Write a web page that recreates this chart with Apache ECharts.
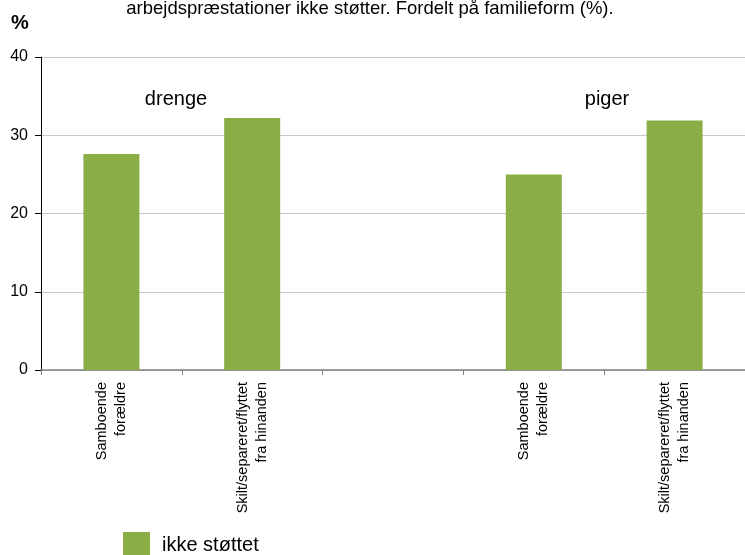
<!DOCTYPE html>
<html>
<head>
<meta charset="utf-8">
<script src="https://cdn.jsdelivr.net/npm/echarts@6/dist/echarts.min.js"></script>
<style>html,body{margin:0;padding:0;background:#fff}#c{width:745px;height:555px}</style>
</head>
<body>
<div id="c"></div>
<script>
var categories = ['Samboende\nforældre', 'Skilt/separeret/flyttet\nfra hinanden', '', 'Samboende\nforældre', 'Skilt/separeret/flyttet\nfra hinanden'];
var values = [27.6, 32.2, null, 25.0, 31.9];
var seriesName = 'ikke støttet';
var groupLabels = ['drenge', 'piger'];
var yTicks = [0, 10, 20, 30, 40];
var titleText = 'arbejdspræstationer ikke støtter. Fordelt på familieform (%).';

var chart = echarts.init(document.getElementById('c'), null, {renderer: 'canvas'});
var font = 'Liberation Sans, Arial, sans-serif';
var option = {
  animation: false,
  textStyle: {fontFamily: font},
  grid: {left: 41, top: 57, width: 708, height: 313, containLabel: false},
  legend: {
    left: 123, top: 532, padding: 0, itemWidth: 27, itemHeight: 27, itemGap: 10,
    textStyle: {fontSize: 20, color: '#000', fontFamily: font, padding: [0, 0, 0, 7]},
    data: [{name: seriesName, icon: 'rect'}]
  },
  xAxis: {
    type: 'category',
    data: categories,
    axisLine: {lineStyle: {color: '#808080', width: 1.5}},
    axisTick: {show: true, length: 5, lineStyle: {color: '#808080'}},
    axisLabel: {rotate: 90, fontSize: 14.5, color: '#000', margin: 12, lineHeight: 19, interval: 0, align: 'right'}
  },
  yAxis: {
    type: 'value', min: yTicks[0], max: yTicks[yTicks.length - 1], interval: 10,
    axisLine: {show: true, lineStyle: {color: '#000', width: 1}},
    axisTick: {show: true, inside: false, length: 6, lineStyle: {color: '#000'}},
    axisLabel: {fontSize: 16, color: '#000', margin: 13},
    splitLine: {lineStyle: {color: '#c8c8c8', width: 1}}
  },
  series: [{
    name: seriesName,
    type: 'bar',
    data: values,
    barWidth: 56,
    itemStyle: {color: '#8aad46'}
  }],
  graphic: [
    {type: 'text', x: 370, y: 9, style: {text: titleText, fontSize: 18.5, fill: '#000', fontFamily: font, align: 'center', verticalAlign: 'middle'}},
    {type: 'text', x: 20, y: 23, style: {text: '%', fontSize: 20, fontWeight: 'bold', fill: '#000', fontFamily: font, align: 'center', verticalAlign: 'middle'}},
    {type: 'text', x: 176, y: 99, style: {text: groupLabels[0], fontSize: 20, fill: '#000', fontFamily: font, align: 'center', verticalAlign: 'middle'}},
    {type: 'text', x: 607, y: 99, style: {text: groupLabels[1], fontSize: 20, fill: '#000', fontFamily: font, align: 'center', verticalAlign: 'middle'}}
  ]
};
chart.setOption(option);
</script>
</body>
</html>
